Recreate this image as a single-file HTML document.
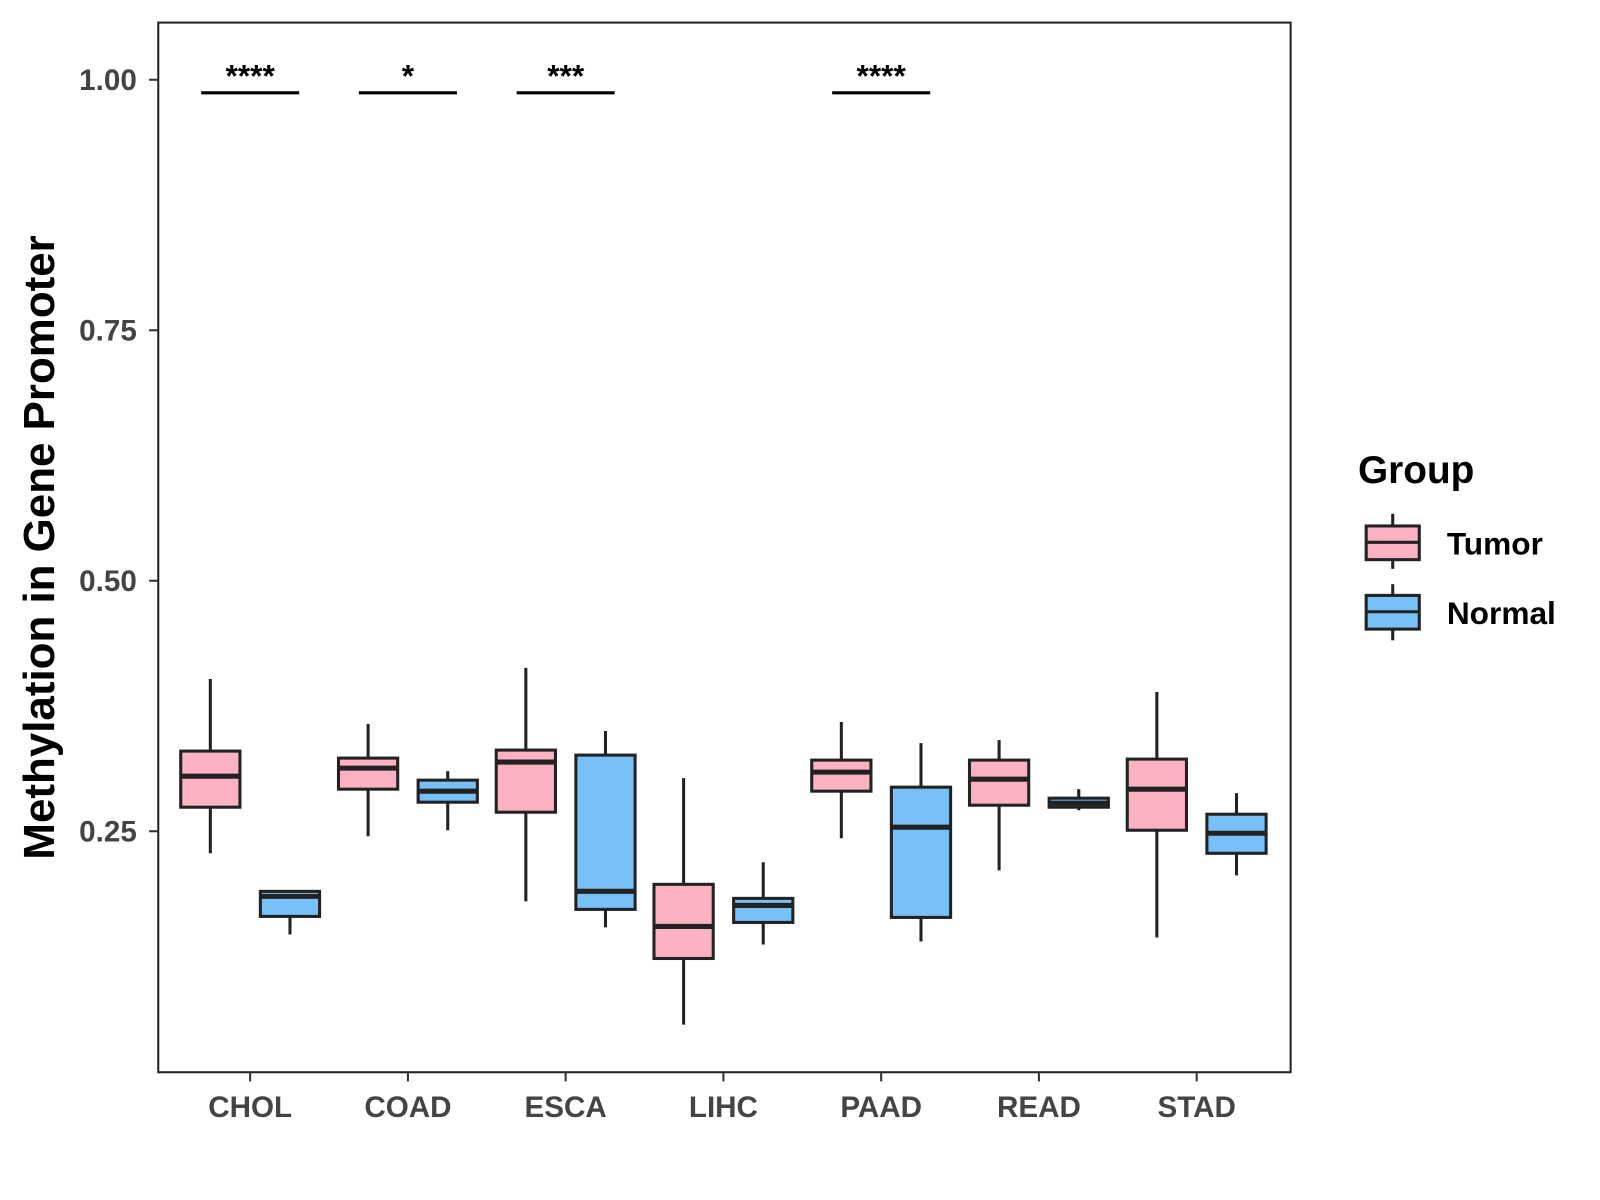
<!DOCTYPE html>
<html><head><meta charset="utf-8"><style>
body{margin:0;background:#fff;}
svg{display:block;font-family:"Liberation Sans",Arial,sans-serif;}
</style></head><body>
<svg id="chart" width="1600" height="1200" viewBox="0 0 1567 1175">
<rect x="0" y="0" width="1567" height="1175" fill="#fff"/>
<g id="plot"></g>
<text transform="translate(53,536) rotate(-90)" text-anchor="middle" font-size="43" font-weight="bold" fill="#000">Methylation in Gene Promoter</text>
<g>
<text x="1330" y="473" font-size="38" font-weight="bold">Group</text>
<g>
<line x1="1364" y1="503" x2="1364" y2="557" stroke="#222" stroke-width="3"/>
<rect x="1338" y="515" width="52" height="33" fill="#FDB2C3" stroke="#222" stroke-width="3"/>
<line x1="1338" y1="531" x2="1390" y2="531" stroke="#222" stroke-width="3"/>
<text x="1417" y="543" font-size="31" font-weight="bold">Tumor</text></g>
<g>
<line x1="1364" y1="572" x2="1364" y2="627" stroke="#222" stroke-width="3"/>
<rect x="1338" y="583" width="52" height="33" fill="#78C1F8" stroke="#222" stroke-width="3"/>
<line x1="1338" y1="599" x2="1390" y2="599" stroke="#222" stroke-width="3"/>
<text x="1417" y="611" font-size="31" font-weight="bold">Normal</text></g>
</g>
</svg>
<script>
const categories=["CHOL","COAD","ESCA","LIHC","PAAD","READ","STAD"];
const tumorStats=[[0.228,0.274,0.305,0.330,0.402],[0.245,0.292,0.313,0.323,0.357],[0.180,0.269,0.319,0.331,0.413],[0.057,0.123,0.155,0.197,0.303],[0.243,0.290,0.309,0.321,0.359],[0.211,0.276,0.302,0.321,0.341],[0.144,0.251,0.292,0.322,0.389]];
const normalStats=[[0.147,0.165,0.185,0.190,0.191],[0.251,0.279,0.290,0.301,0.310],[0.154,0.172,0.190,0.326,0.350],[0.137,0.159,0.176,0.183,0.219],[0.140,0.164,0.254,0.294,0.338],[0.271,0.274,0.278,0.283,0.292],[0.206,0.228,0.248,0.267,0.288]];
const yTicks=[0.25,0.50,0.75,1.00];
const yTickLabels=["0.25","0.50","0.75","1.00"];
const sigLabels=["****","*","***","","****","",""];
const sigLevel=0.987;

const NS="http://www.w3.org/2000/svg";
const L=155,R=1264,T=22,B=1050;
const y=v=>1059.3-v*981.3;
const x=i=>245+i*154.5;
const g=document.getElementById('plot');
function mk(t,a,p){const e=document.createElementNS(NS,t);for(const k in a)e.setAttribute(k,a[k]);(p||g).appendChild(e);return e;}
const frame=mk('rect',{x:L,y:T,width:R-L,height:B-T,fill:'none',stroke:'#222','stroke-width':2});


yTicks.forEach((v,i)=>{
 const tk=mk('line',{x1:L-9,x2:L,y1:y(v),y2:y(v),stroke:'#333','stroke-width':2});
 
 
 const t=mk('text',{x:L-21,y:y(v)+10,'text-anchor':'end','font-size':29,'font-weight':'bold',fill:'#444'});
 t.textContent=yTickLabels[i];
 
 
});
function box(s,cx,fill,name){
 const w=58;
 const grp=mk('g',{});
 
 
 mk('line',{x1:cx,x2:cx,y1:y(s[4]),y2:y(s[0]),stroke:'#222','stroke-width':3},grp);
 mk('rect',{x:cx-w/2,y:y(s[3]),width:w,height:Math.max(1,y(s[1])-y(s[3])),fill:fill,stroke:'#222','stroke-width':3},grp);
 mk('line',{x1:cx-w/2,x2:cx+w/2,y1:y(s[2]),y2:y(s[2]),stroke:'#222','stroke-width':5},grp);
}
categories.forEach((c,i)=>{
 const cx=x(i);
 box(tumorStats[i],cx-39,'#FDB2C3','box-tumor-'+c.toLowerCase());
 box(normalStats[i],cx+39,'#78C1F8','box-normal-'+c.toLowerCase());
 const tk=mk('line',{x1:cx,x2:cx,y1:B,y2:B+9,stroke:'#333','stroke-width':2});
 
 
 const t=mk('text',{x:cx,y:1094,'text-anchor':'middle','font-size':29,'font-weight':'bold',fill:'#444'});
 t.textContent=c;
 
 
 if(sigLabels[i]){
  const ln=mk('line',{x1:cx-48,x2:cx+48,y1:y(sigLevel),y2:y(sigLevel),stroke:'#000','stroke-width':3});
  
  
  const st=mk('text',{x:cx,y:y(sigLevel)-6,'text-anchor':'middle','font-size':31,'font-weight':'bold',fill:'#000'});
  st.textContent=sigLabels[i];
  
  
 }
});
</script>
</body></html>
